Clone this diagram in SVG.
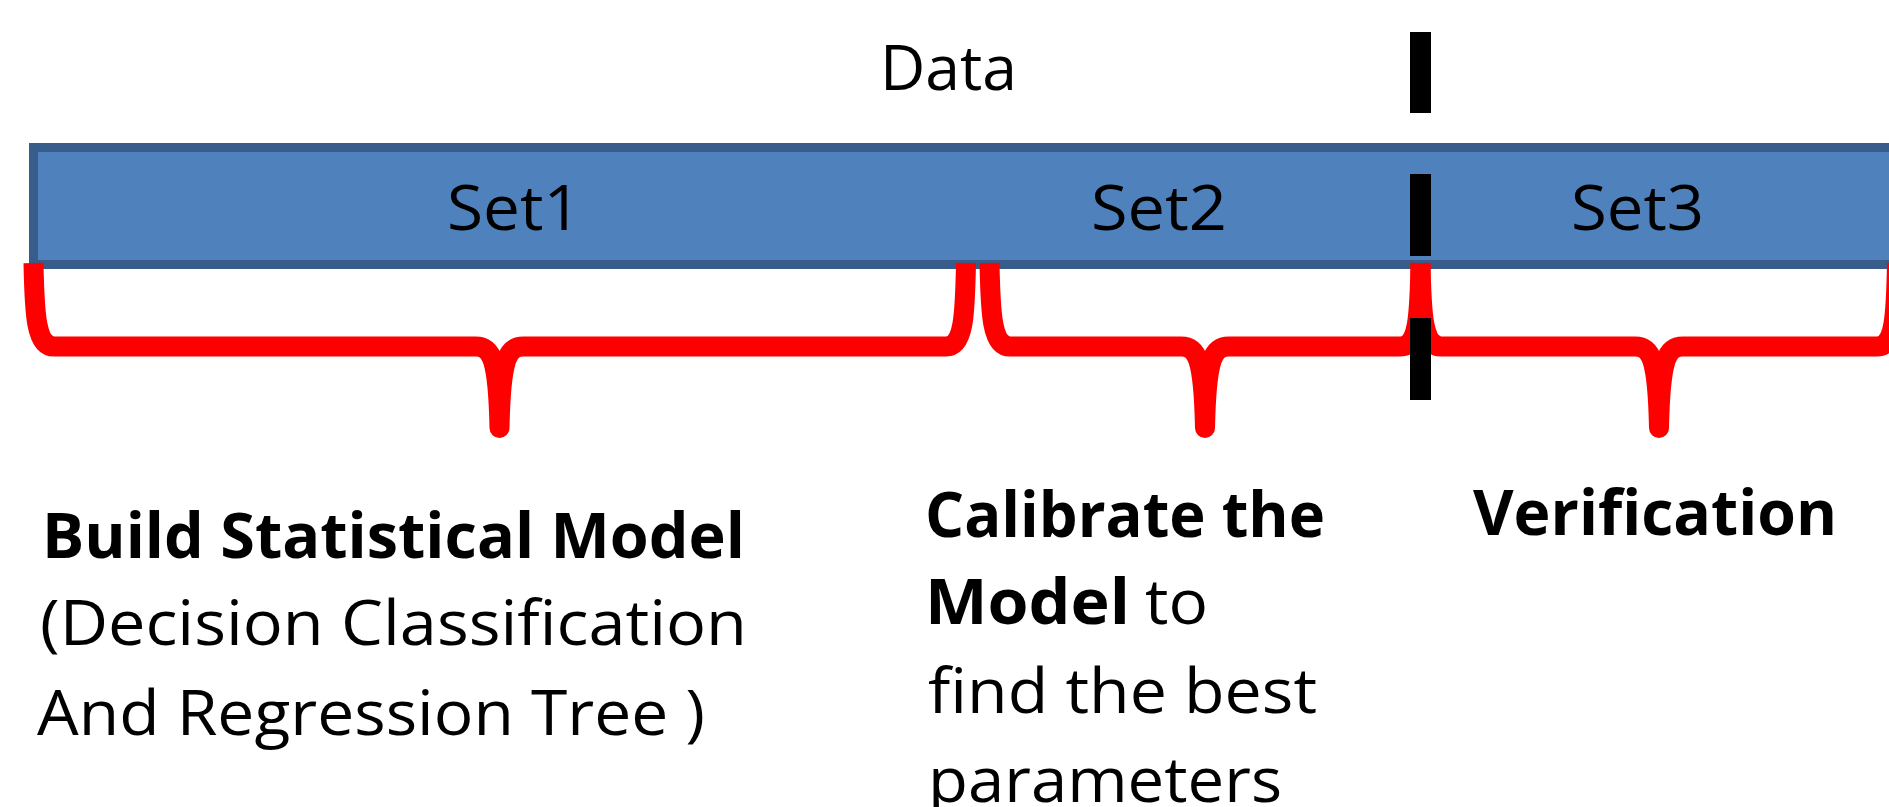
<svg xmlns="http://www.w3.org/2000/svg" width="1889" height="807" viewBox="0 0 1889 807">
<style>
.bar{fill:#4F81BD;stroke:#385D8A;stroke-width:9}
.brace{fill:none;stroke:#FF0000;stroke-width:20;stroke-linejoin:round;stroke-linecap:butt}
.dash{fill:#000000}
text{font-family:"Open Sans","Noto Sans","Liberation Sans",sans-serif;fill:#000000}
.lbl{font-size:63px}
.reg{font-size:62px}
.b{font-size:63px;font-weight:bold}
</style>
<rect width="1889" height="807" fill="#FFFFFF"/>
<g id="data-label">
<text class="lbl" x="880" y="90" textLength="137" lengthAdjust="spacingAndGlyphs">Data</text>
</g>
<g id="data-bar">
<rect class="bar" x="33.5" y="147.5" width="1900" height="117"/>
<text class="lbl" x="447" y="230" textLength="134" lengthAdjust="spacingAndGlyphs">Set1</text>
<text class="lbl" x="1091" y="230" textLength="136" lengthAdjust="spacingAndGlyphs">Set2</text>
<text class="lbl" x="1571" y="230" textLength="133" lengthAdjust="spacingAndGlyphs">Set3</text>
</g>
<g id="connectors">
<path class="brace" d="M33.5,263 C34.5,315 36,346.5 54,346.5 H475.5 C491.5,346.5 498,358 499.5,428 C501,358 507.5,346.5 523.5,346.5 H946 C964,346.5 965,315 966,263"/>
<path class="brace" d="M989.5,263 C990.5,315 992,346.5 1010,346.5 H1181 C1197,346.5 1203.5,358 1205,428 C1206.5,358 1213,346.5 1229,346.5 H1400.5 C1418.5,346.5 1419.5,315 1420.5,263"/>
<path class="brace" d="M1420.5,263 C1421.5,315 1423,346.5 1441,346.5 H1635 C1651,346.5 1657.5,358 1659,428 C1660.5,358 1667,346.5 1683,346.5 H1877 C1895,346.5 1896,315 1897,263"/>
</g>
<g id="split-marker">
<rect class="dash" x="1410" y="32" width="21" height="81"/>
<rect class="dash" x="1410" y="174" width="21" height="82"/>
<rect class="dash" x="1410" y="318" width="21" height="82"/>
</g>
<g id="set1-label">
<text class="b" x="42" y="558" textLength="703" lengthAdjust="spacingAndGlyphs">Build Statistical Model</text>
<text class="reg" x="40" y="645" textLength="707" lengthAdjust="spacingAndGlyphs">(Decision Classification</text>
<text class="reg" x="37" y="735" textLength="668" lengthAdjust="spacingAndGlyphs">And Regression Tree )</text>
</g>
<g id="set2-label">
<text class="b" x="925" y="537" textLength="400" lengthAdjust="spacingAndGlyphs">Calibrate the</text>
<text x="925" y="624"><tspan class="b" textLength="205" lengthAdjust="spacingAndGlyphs">Model</tspan><tspan class="reg" x="1145" textLength="63" lengthAdjust="spacingAndGlyphs">to</tspan></text>
<text class="reg" x="928" y="713" textLength="389" lengthAdjust="spacingAndGlyphs">find the best</text>
<text class="reg" x="928" y="802" textLength="354" lengthAdjust="spacingAndGlyphs">parameters</text>
</g>
<g id="set3-label">
<text class="b" x="1473" y="535" textLength="364" lengthAdjust="spacingAndGlyphs">Verification</text>
</g>
</svg>
